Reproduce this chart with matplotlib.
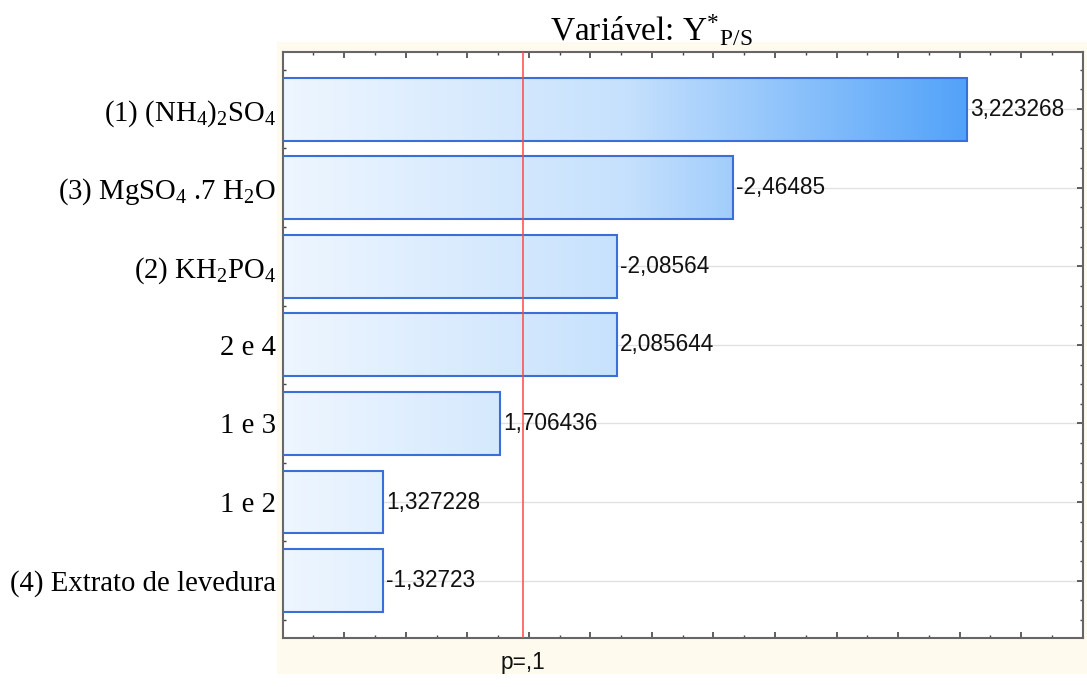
import numpy as np
import matplotlib
matplotlib.use("Agg")
import matplotlib.pyplot as plt
from matplotlib.colors import LinearSegmentedColormap
from matplotlib.patches import Rectangle
from matplotlib.ticker import MultipleLocator

plt.rcParams['mathtext.fontset'] = 'custom'
plt.rcParams['mathtext.rm'] = 'Liberation Serif'
plt.rcParams['mathtext.it'] = 'Liberation Serif:italic'

# efeitos padronizados (t) - grafico de Pareto
labels = [r'(1) (NH$_4$)$_2$SO$_4$', r'(3) MgSO$_4$ .7 H$_2$O', r'(2) KH$_2$PO$_4$',
          '2 e 4', '1 e 3', '1 e 2', '(4) Extrato de levedura']
values = [3.223268, -2.46485, -2.08564, 2.085644, 1.706436, 1.327228, -1.32723]
p_limit = 1.782  # t critico p=,1
p_text = 'p=,1'

fig = plt.figure(figsize=(10.87, 6.87), dpi=100)
# painel amarelo de fundo
fig.patches.append(Rectangle((0.2548, 0.0189), 0.7452, 0.92, transform=fig.transFigure,
                             facecolor='#fefaee', edgecolor='none', zorder=-1))
ax = fig.add_axes([0.2601, 0.0713, 0.7359, 0.8534])
ax.set_facecolor('white')

y = np.arange(len(values))
lengths = np.abs(values)
x0, x1 = 1.0, 3.6

for yy in y:
    ax.axhline(yy, color='#e2e2e2', lw=1.0, zorder=1)

cmap = LinearSegmentedColormap.from_list('grad', ['#eef6ff', '#c6e1fd', '#52a2f9'])
grad = np.linspace(0, 1, 256).reshape(1, -1)
gmax = lengths.max()
bars = ax.barh(y, lengths - x0, left=x0, height=0.8, facecolor='none',
               edgecolor='#3b6fd8', linewidth=1.5, zorder=4)
for b in bars:
    im = ax.imshow(grad, cmap=cmap, aspect='auto', extent=(x0, gmax, y[-1] + 1, -1),
                   zorder=3, interpolation='bilinear')
    im.set_clip_path(b)
ax.set_xlim(x0, x1)
ax.set_ylim(len(values) - 1 + 0.73, -0.73)

for yy, L, v in zip(y, lengths, values):
    s = f"{v:.7g}".replace('.', ',')
    ax.text(L + 0.01, yy, s, va='center', ha='left', fontsize=16.3,
            family='Liberation Sans', color='#111111', zorder=5)

ax.axvline(p_limit, color='#ff4848', lw=1.1, zorder=6)
ax.text(p_limit, -0.022, p_text, transform=ax.get_xaxis_transform(), ha='center', va='top',
        fontsize=16.3, family='Liberation Sans', color='#111111')

ax.set_yticks(y)
ax.set_yticklabels(labels, family='Liberation Serif', fontsize=20.7)
ax.yaxis.set_minor_locator(MultipleLocator(0.25))
ax.xaxis.set_major_locator(MultipleLocator(0.2))
ax.xaxis.set_minor_locator(MultipleLocator(0.1))
ax.set_xticklabels([])
ax.tick_params(which='both', direction='in', top=True, right=True, color='#444444')
ax.tick_params(which='major', length=4, width=1.2)
ax.tick_params(which='minor', length=2.5, width=1.0)
ax.tick_params(axis='y', pad=5)
for sp in ax.spines.values():
    sp.set_color('#666666')
    sp.set_linewidth(1.5)

fig.text(0.599, 0.982, r'Variável: Y$^{*}$$_{\mathrm{P/S}}$', ha='center', va='top',
         family='Liberation Serif', fontsize=24)

fig.savefig('out.png', dpi=100)
